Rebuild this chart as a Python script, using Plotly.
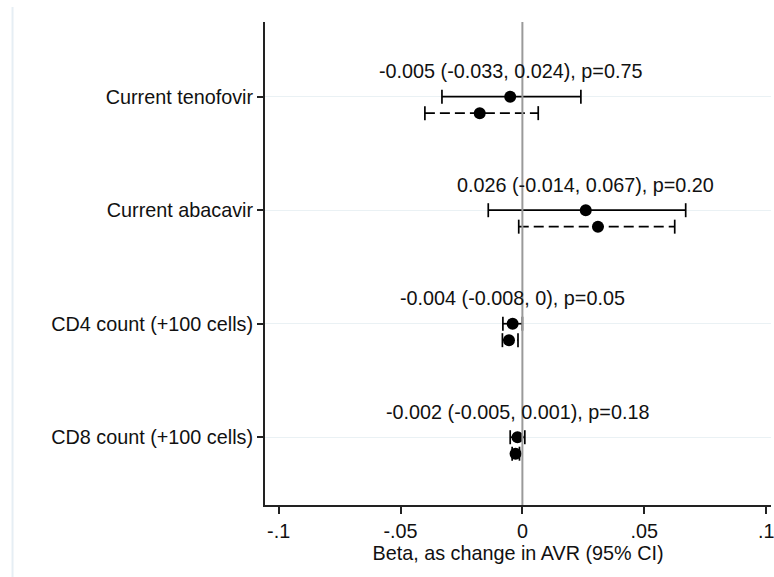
import plotly.graph_objects as go

categories = ["Current tenofovir", "Current abacavir", "CD4 count (+100 cells)", "CD8 count (+100 cells)"]
# solid series (labelled)
solid_est = [-0.005, 0.026, -0.004, -0.002]
solid_lo = [-0.033, -0.014, -0.008, -0.005]
solid_hi = [0.024, 0.067, 0.000, 0.001]
labels = ["-0.005 (-0.033, 0.024), p=0.75",
          "0.026 (-0.014, 0.067), p=0.20",
          "-0.004 (-0.008, 0), p=0.05",
          "-0.002 (-0.005, 0.001), p=0.18"]
# dashed series
dash_est = [-0.0175, 0.031, -0.0055, -0.0028]
dash_lo = [-0.040, -0.0015, -0.0082, -0.0042]
dash_hi = [0.0065, 0.0625, -0.0018, -0.0012]
xtick_vals = [-0.1, -0.05, 0, 0.05, 0.1]
xtick_text = ["-.1", "-.05", "0", ".05", ".1"]

pos = [1, 2, 3, 4]
DOFF = 0.145
TOFF = -0.225
FONT = "Liberation Sans, Arial, sans-serif"
FS = 19.8

fig = go.Figure()

def ci_trace(lo, hi, ys, dash):
    xs, yy = [], []
    for a, b, y in zip(lo, hi, ys):
        xs += [a, b, None]
        yy += [y, y, None]
    return go.Scatter(x=xs, y=yy, mode="lines+markers",
                      line=dict(color="black", width=1.7, dash=dash),
                      marker=dict(symbol="line-ns", size=10,
                                  line=dict(color="black", width=1.7)),
                      hoverinfo="skip", showlegend=False)

ys_solid = pos
ys_dash = [p + DOFF for p in pos]
fig.add_trace(ci_trace(solid_lo, solid_hi, ys_solid, "solid"))
fig.add_trace(ci_trace(dash_lo, dash_hi, ys_dash, "10px,5px"))
fig.add_trace(go.Scatter(x=solid_est, y=ys_solid, mode="markers",
                         marker=dict(symbol="circle", size=12, color="black"),
                         showlegend=False))
fig.add_trace(go.Scatter(x=dash_est, y=ys_dash, mode="markers",
                         marker=dict(symbol="circle", size=12, color="black"),
                         showlegend=False))

for x, p, t in zip(solid_est, pos, labels):
    fig.add_annotation(x=x, y=p + TOFF, text=t, showarrow=False,
                       xanchor="center", yanchor="middle",
                       font=dict(family=FONT, size=FS, color="#111"))

fig.add_shape(type="line", xref="x", yref="paper", x0=0, x1=0, y0=0, y1=1,
              line=dict(color="#9a9a9a", width=2), layer="above")
# faint outer border at left
fig.add_shape(type="line", xref="paper", yref="paper", x0=-0.499, x1=-0.499,
              y0=-0.16, y1=1.031, line=dict(color="#e6eef4", width=2))

fig.update_layout(
    width=774, height=577,
    margin=dict(l=265, r=0, t=22, b=72),
    paper_bgcolor="white", plot_bgcolor="white",
    font=dict(family=FONT, size=FS, color="#111"),
    xaxis=dict(range=[-0.1056, 0.1020], tickvals=xtick_vals, ticktext=xtick_text,
               showgrid=False, zeroline=False, showline=True, linecolor="#222",
               linewidth=2, ticks="outside", ticklen=7, tickwidth=2, tickcolor="#222",
               ticklabeloverflow="allow",
               title=dict(text="Beta, as change in AVR (95% CI)", standoff=4,
                          font=dict(family=FONT, size=FS, color="#111")),
               tickfont=dict(family=FONT, size=FS, color="#111")),
    yaxis=dict(range=[4.597, 0.342], tickvals=pos, ticktext=categories,
               showgrid=True, gridcolor="#eaf1f4", gridwidth=1,
               zeroline=False, showline=True, linecolor="#222", linewidth=2,
               ticks="outside", ticklen=6, tickwidth=1.5, tickcolor="#222",
               tickfont=dict(family=FONT, size=FS, color="#111")),
)

fig.write_html("out.html")
